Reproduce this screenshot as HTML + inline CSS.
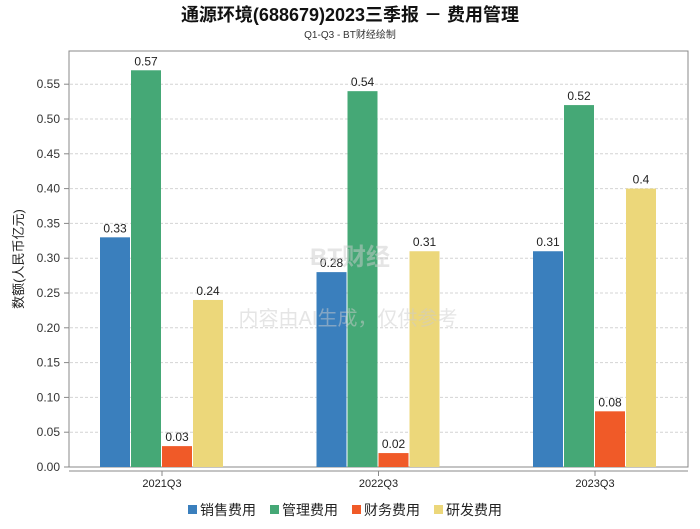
<!DOCTYPE html>
<html><head><meta charset="utf-8"><style>
body{margin:0;background:#fff;width:700px;height:524px;overflow:hidden;font-family:"Liberation Sans","Noto Sans CJK SC",sans-serif}
</style></head><body>
<svg width="700" height="524" id="c" font-family="Liberation Sans, Noto Sans CJK SC, sans-serif">
<text x="350" y="21" text-anchor="middle" font-size="18" font-weight="bold" fill="#111">通源环境(688679)2023三季报 － 费用管理</text>
<text x="350" y="38" text-anchor="middle" font-size="10" fill="#333">Q1-Q3 - BT财经绘制</text>
<text transform="translate(23,259) rotate(-90)" text-anchor="middle" font-size="13" fill="#222">数额(人民币亿元)</text>
<rect x="69" y="51" width="619" height="416" fill="none" stroke="#888"/>
<g id="g"></g>
<text x="350" y="265" text-anchor="middle" font-size="24" fill="#ccc" fill-opacity="0.5" font-weight="bold">BT财经</text>
<text x="348" y="325" text-anchor="middle" font-size="20" fill="#ccc" fill-opacity="0.5">内容由AI生成，仅供参考</text>
</svg>
<script>
const categories=["2021Q3","2022Q3","2023Q3"];
const seriesNames=["销售费用","管理费用","财务费用","研发费用"];
const colors=["#3a7fbd","#45a876","#f05a28","#ecd77a"];
const sales=[0.33,0.28,0.31];
const admin=[0.57,0.54,0.52];
const finance=[0.03,0.02,0.08];
const rnd=[0.24,0.31,0.4];
const labels=[["0.33","0.28","0.31"],["0.57","0.54","0.52"],["0.03","0.02","0.08"],["0.24","0.31","0.4"]];
const yTicks=[0,0.05,0.1,0.15,0.2,0.25,0.3,0.35,0.4,0.45,0.5,0.55];
const series=[sales,admin,finance,rnd];
const NS="http://www.w3.org/2000/svg";
const g=document.getElementById('g');
const y=v=>467-v/0.05*34.8;
const x=i=>162+216.5*i;
function mk(t,a){const e=document.createElementNS(NS,t);for(const k in a)e.setAttribute(k,a[k]);g.appendChild(e);return e;}
yTicks.forEach(v=>{
 if(v>0){const l=mk('line',{x1:70,x2:687,y1:y(v),y2:y(v),stroke:'#d4d4d4','stroke-dasharray':'3,2'});
 
 }
 const tk=mk('line',{x1:64,x2:69,y1:y(v),y2:y(v),stroke:'#888'});
 
 
 const t=mk('text',{x:60,y:y(v)+4,'text-anchor':'end','font-size':12,fill:'#333'});t.textContent=v.toFixed(2);
 
 
});
const ax=mk('line',{x1:69,x2:688,y1:471,y2:471,stroke:'#888'});


categories.forEach((c,i)=>{
 const tk=mk('line',{x1:x(i),x2:x(i),y1:471,y2:476,stroke:'#888'});
 
 
 const t=mk('text',{x:x(i),y:487,'text-anchor':'middle','font-size':11,fill:'#222'});t.textContent=c;
 
 
 series.forEach((s,j)=>{
  const bx=x(i)-62+31*j;
  const r=mk('rect',{x:bx,y:y(s[i]),width:30,height:467-y(s[i]),fill:colors[j]});
  
  
  const lt=mk('text',{x:bx+15,y:y(s[i])-5,'text-anchor':'middle','font-size':12,fill:'#222'});lt.textContent=labels[j][i];
  
  
 });
});
seriesNames.forEach((n,j)=>{
 const lx=188+82*j;
 const r=mk('rect',{x:lx,y:505,width:9,height:9,fill:colors[j]});
 
 
 const t=mk('text',{x:lx+12,y:515,'font-size':14,fill:'#222'});t.textContent=n;
 
 
});
</script>
</body></html>
